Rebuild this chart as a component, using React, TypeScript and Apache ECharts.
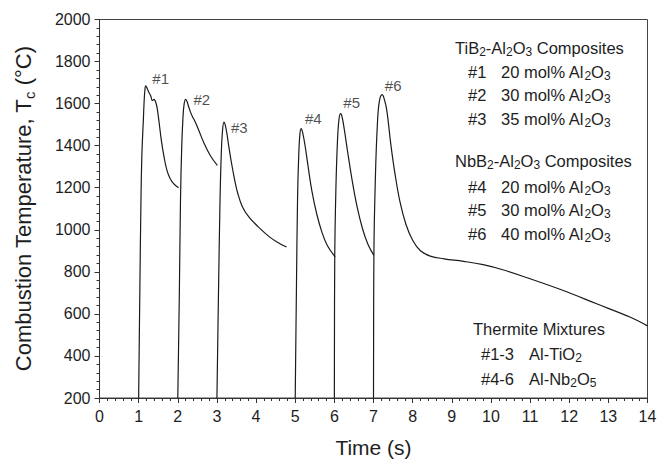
import React, { useEffect, useRef } from 'react';
import * as echarts from 'echarts';

// Combustion temperature profiles: [time (s), temperature (°C)]
const curve1: [number, number][] = [
  [1.0, 200], [1.03, 700], [1.06, 1150], [1.08, 1340], [1.10, 1440], [1.12, 1520],
  [1.14, 1610], [1.16, 1665], [1.18, 1685], [1.21, 1676], [1.25, 1658], [1.31, 1636],
  [1.35, 1614], [1.39, 1620], [1.43, 1610], [1.47, 1582], [1.52, 1515], [1.58, 1425],
  [1.65, 1345], [1.72, 1285], [1.80, 1245], [1.90, 1218], [2.02, 1200],
];
const curve2: [number, number][] = [
  [2.0, 200], [2.04, 700], [2.07, 1150], [2.10, 1390], [2.13, 1525], [2.16, 1595],
  [2.20, 1620], [2.23, 1612], [2.27, 1590], [2.32, 1562], [2.37, 1540], [2.44, 1515],
  [2.53, 1476], [2.66, 1416], [2.83, 1353], [3.01, 1306],
];
const curve3: [number, number][] = [
  [3.0, 200], [3.04, 700], [3.08, 1150], [3.11, 1355], [3.14, 1465], [3.18, 1512],
  [3.21, 1500], [3.25, 1463], [3.30, 1400], [3.37, 1320], [3.45, 1240], [3.53, 1175],
  [3.65, 1110], [3.82, 1060], [4.05, 1015], [4.35, 965], [4.6, 935], [4.78, 918],
];
const curve4: [number, number][] = [
  [5.0, 200], [5.03, 700], [5.06, 1150], [5.09, 1355], [5.12, 1455], [5.15, 1481],
  [5.19, 1462], [5.25, 1402], [5.33, 1300], [5.43, 1180], [5.55, 1075], [5.68, 990],
  [5.82, 925], [6.02, 871],
];
const curve5: [number, number][] = [
  [6.0, 200], [6.01, 870], [6.04, 1200], [6.08, 1425], [6.12, 1528], [6.16, 1552],
  [6.20, 1535], [6.26, 1470], [6.34, 1370], [6.45, 1240], [6.58, 1110], [6.72, 1005],
  [6.86, 930], [7.01, 878],
];
const curve6: [number, number][] = [
  [7.0, 200], [7.01, 880], [7.05, 1260], [7.10, 1505], [7.15, 1612], [7.22, 1643],
  [7.27, 1625], [7.34, 1568], [7.44, 1410], [7.55, 1265], [7.68, 1130], [7.83, 1025],
  [8.0, 950], [8.2, 900], [8.45, 875], [8.8, 862], [9.3, 850], [9.8, 834],
  [10.3, 810], [11.0, 767], [11.85, 711], [12.7, 648], [13.55, 585], [14.0, 543],
];

const peakLabels = ['#1', '#2', '#3', '#4', '#5', '#6'];
const peakLabelPos: [number, number][] = [
  [1.35, 1718], [2.40, 1619], [3.36, 1486], [5.25, 1528], [6.23, 1604], [7.29, 1686],
];

const legendTi = ['20', '30', '35'];
const legendNb = ['20', '30', '40'];

export default function App() {
  const ref = useRef<HTMLDivElement>(null);
  useEffect(() => {
    const chart = echarts.init(ref.current!, null, { renderer: 'svg' });
    const font = '"Liberation Sans", Arial, sans-serif';
    const ink = '#1e1e1e';
    const lineCol = '#1a1a1a';
    const subStyle = { fontSize: 12, lineHeight: 12, padding: [8, 0, 0, 0], fontFamily: font, fill: ink, color: ink };
    const legendText = (x: number, y: number, text: string) => ({
      type: 'text',
      x,
      y,
      silent: true,
      style: {
        text,
        fontSize: 16.5,
        lineHeight: 20,
        fontFamily: font,
        fill: ink,
        align: 'left',
        verticalAlign: 'middle',
        rich: { s: subStyle, n: { fontSize: 16.5, lineHeight: 20, fontFamily: font, fill: ink } },
      },
    });

    const graphics: any[] = [];
    graphics.push(legendText(455, 48, '{n|TiB}{s|2}{n|-Al}{s|2}{n|O}{s|3}{n| Composites}'));
    legendTi.forEach((v, i) => {
      const y = 72 + i * 23.3;
      graphics.push(legendText(468, y, `{n|#${i + 1}}`));
      graphics.push(legendText(501, y, `{n|${v} mol% Al}{s|2}{n|O}{s|3}`));
    });
    graphics.push(legendText(455, 161, '{n|NbB}{s|2}{n|-Al}{s|2}{n|O}{s|3}{n| Composites}'));
    legendNb.forEach((v, i) => {
      const y = 187 + i * 23.3;
      graphics.push(legendText(468, y, `{n|#${i + 4}}`));
      graphics.push(legendText(501, y, `{n|${v} mol% Al}{s|2}{n|O}{s|3}`));
    });
    graphics.push(legendText(473, 329, '{n|Thermite Mixtures}'));
    graphics.push(legendText(481, 353.5, '{n|#1-3}'));
    graphics.push(legendText(529, 353.5, '{n|Al-TiO}{s|2}'));
    graphics.push(legendText(481, 378.5, '{n|#4-6}'));
    graphics.push(legendText(529, 378.5, '{n|Al-Nb}{s|2}{n|O}{s|5}'));

    const curves = [curve1, curve2, curve3, curve4, curve5, curve6];
    const series: any[] = curves.map((c) => ({
      type: 'line',
      data: c,
      showSymbol: false,
      symbol: 'none',
      smooth: 0.4,
      lineStyle: { color: lineCol, width: 1.2 },
      silent: true,
    }));
    series.push({
      type: 'scatter',
      symbolSize: 0,
      silent: true,
      data: peakLabelPos.map((p, i) => ({ value: p, name: peakLabels[i] })),
      label: {
        show: true,
        formatter: '{b}',
        position: 'right',
        distance: 0,
        fontSize: 15,
        fontFamily: font,
        color: ink,
      },
    });

    const tickCol = '#333';
    const mkAxis = () => ({
      axisLine: { show: true, onZero: false, lineStyle: { color: '#333', width: 1 } },
      axisTick: { show: true, inside: false, length: 5, lineStyle: { color: tickCol, width: 1 } },
      minorTick: { show: true, splitNumber: 5, length: 3, lineStyle: { color: tickCol, width: 1 } },
      splitLine: { show: false },
      minorSplitLine: { show: false },
    });

    chart.setOption({
      animation: false,
      backgroundColor: '#fff',
      grid: {
        left: 99.5,
        right: 14.5,
        top: 19.5,
        bottom: 61,
        show: true,
        borderColor: '#444',
        borderWidth: 1,
        backgroundColor: 'transparent',
      },
      xAxis: {
        type: 'value',
        min: 0,
        max: 14,
        interval: 1,
        ...mkAxis(),
        axisLabel: { fontSize: 16, fontFamily: font, color: ink, margin: 10, formatter: (v: number) => String(v) },
        name: 'Time (s)',
        nameLocation: 'middle',
        nameGap: 39,
        nameTextStyle: { fontSize: 21, fontFamily: font, color: ink },
      },
      yAxis: {
        type: 'value',
        min: 200,
        max: 2000,
        interval: 200,
        ...mkAxis(),
        axisLabel: { fontSize: 16, fontFamily: font, color: ink, margin: 9, formatter: (v: number) => String(v) },
        name: '{n|Combustion Temperature, T}{s|c}{n| (°C)}',
        nameLocation: 'middle',
        nameGap: 63,
        nameTextStyle: {
          fontSize: 22,
          lineHeight: 26,
          fontFamily: font,
          color: ink,
          rich: {
            n: { fontSize: 22, lineHeight: 26, fontFamily: font, color: ink },
            s: { fontSize: 15, lineHeight: 15, padding: [11, 0, 0, 0], fontFamily: font, color: ink },
          },
        },
      },
      series,
      graphic: graphics,
    });
    return () => chart.dispose();
  }, []);
  return (
    <div
      ref={ref}
      style={{ position: 'fixed', left: 0, top: 0, width: 662, height: 463, background: '#fff' }}
    />
  );
}
